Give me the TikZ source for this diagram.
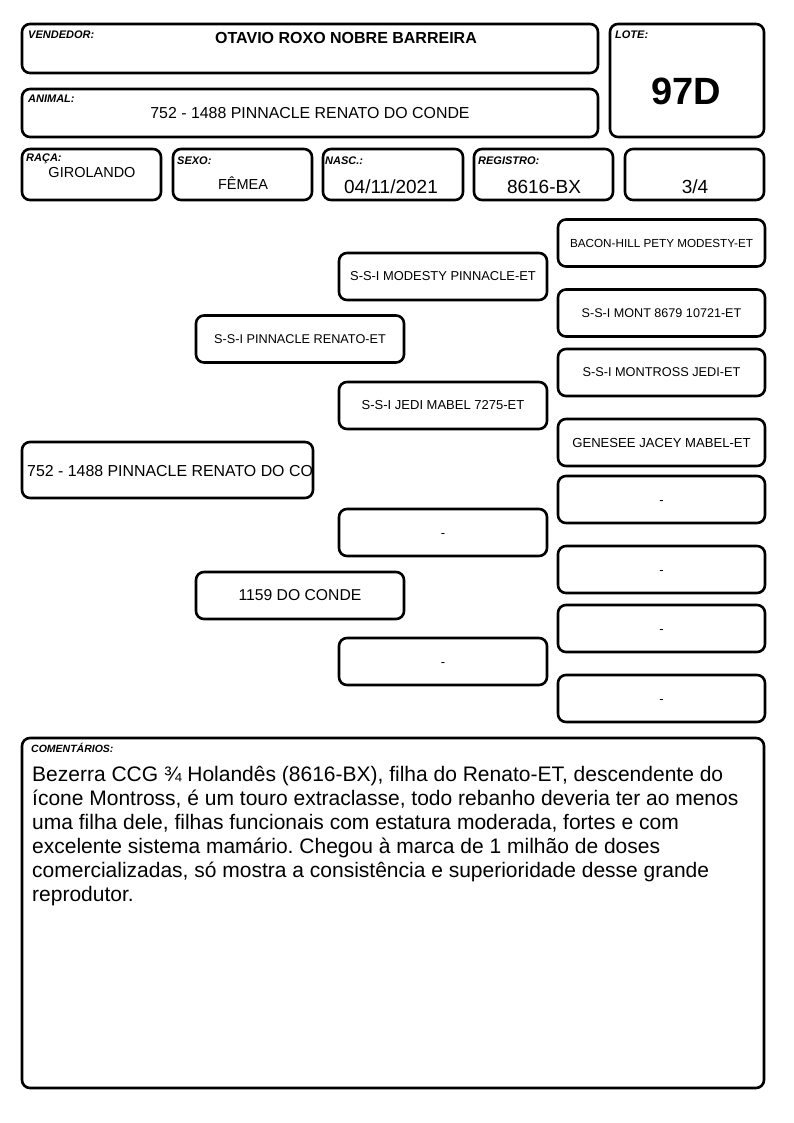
\documentclass[tikz,border=0pt]{standalone}
\usepackage{fontspec}
\setmainfont{Liberation Sans}
\frenchspacing
\begin{document}
\begin{tikzpicture}[x=1pt,y=-1pt,
  box/.style={draw=black, line width=2.6pt, rounded corners=8pt, inner sep=0pt, anchor=center},
  lbl/.style={anchor=base west, inner sep=0pt, font=\fontsize{11}{13}\selectfont\bfseries\itshape},
  val/.style={anchor=base, inner sep=0pt},
  ped/.style={box, font=\fontsize{13}{15}\selectfont, align=center, minimum width=208pt, minimum height=47pt},
  dashtxt/.style={text height=9.5pt, text depth=0pt},
]
\useasboundingbox[fill=white] (0,0) rectangle (794,1123);

% header boxes
\node[box, minimum width=576pt, minimum height=49pt] (vend) at (310,48.5) {};
\node[box, minimum width=576pt, minimum height=48pt] (anim) at (310,113) {};
\node[box, minimum width=154pt, minimum height=113pt] (lote) at (687,80.5) {};
\node[box, minimum width=139pt, minimum height=51pt] (raca) at (91.5,174.5) {};
\node[box, minimum width=139pt, minimum height=51pt] (sexo) at (242.5,174.5) {};
\node[box, minimum width=140pt, minimum height=51pt] (nasc) at (393,174.5) {};
\node[box, minimum width=139pt, minimum height=51pt] (regi) at (543.5,174.5) {};
\node[box, minimum width=139pt, minimum height=51pt] (frac) at (694.5,174.5) {};

\node[lbl] (vendl) at (28,39) {VENDEDOR:};
\node[val, font=\fontsize{16}{18}\selectfont\bfseries] (vendv) at (346,44) {OTAVIO ROXO NOBRE BARREIRA};
\node[lbl] (animl) at (28,103) {ANIMAL:};
\node[val, font=\fontsize{15.9}{18}\selectfont] (animv) at (310,119) {752 - 1488 PINNACLE RENATO DO CONDE};
\node[lbl] (lotel) at (615,39) {LOTE:};
\node[val, font=\fontsize{38}{40}\selectfont\bfseries] (lotev) at (686,105) {97D};

\node[lbl] (racal) at (26,162) {RAÇA:};
\node[val, font=\fontsize{14.5}{16}\selectfont] (racav) at (92,178) {GIROLANDO};
\node[lbl] (sexol) at (177,165) {SEXO:};
\node[val, font=\fontsize{14.5}{16}\selectfont] (sexov) at (243,190) {FÊMEA};
\node[lbl] (nascl) at (325,165) {NASC.:};
\node[val, font=\fontsize{19}{21}\selectfont] (nascv) at (391,194) {04/11/2021};
\node[lbl] (regil) at (478,165) {REGISTRO:};
\node[val, font=\fontsize{19}{21}\selectfont] (regiv) at (544,194) {8616-BX};
\node[val, font=\fontsize{19}{21}\selectfont] (fracv) at (695,194) {3/4};

% pedigree
\node[box, minimum width=291pt, minimum height=56pt] (g1) at (167.5,470) {};
\begin{scope}
  \clip (23.5,443.5) rectangle (311.6,496.5);
  \node[anchor=base west, inner sep=0pt, font=\fontsize{15.9}{18}\selectfont] (g1t) at (27,476) {752 - 1488 PINNACLE RENATO DO CONDE};
\end{scope}

\node[ped, font=\fontsize{12.7}{15}\selectfont] (s) at (300,339) {S-S-I PINNACLE RENATO-ET};
\node[ped, font=\fontsize{15.7}{18}\selectfont] (d) at (300,595.5) {1159 DO CONDE};

\node[ped, font=\fontsize{12.9}{15}\selectfont] (ss) at (443,276.5) {S-S-I MODESTY PINNACLE-ET};
\node[ped] (sd) at (443,405.5) {S-S-I JEDI MABEL 7275-ET};
\node[ped, dashtxt] (ds) at (443,532.5) {-};
\node[ped, dashtxt] (dd) at (443,661.5) {-};

\node[ped, minimum width=207pt, font=\fontsize{11.7}{14}\selectfont] (sss) at (661.5,243) {BACON-HILL PETY MODESTY-ET};
\node[ped, minimum width=207pt, font=\fontsize{12.6}{15}\selectfont] (ssd) at (661.5,313) {S-S-I MONT 8679 10721-ET};
\node[ped, minimum width=207pt, font=\fontsize{12.75}{15}\selectfont] (sds) at (661.5,372.5) {S-S-I MONTROSS JEDI-ET};
\node[ped, minimum width=207pt, font=\fontsize{13.1}{15}\selectfont] (sdd) at (661.5,442.5) {GENESEE JACEY MABEL-ET};
\node[ped, dashtxt, minimum width=207pt] (dss) at (661.5,499.5) {-};
\node[ped, dashtxt, minimum width=207pt] (dsd) at (661.5,569.5) {-};
\node[ped, dashtxt, minimum width=207pt] (dds) at (661.5,628.5) {-};
\node[ped, dashtxt, minimum width=207pt] (ddd) at (661.5,698.5) {-};

% comments
\node[box, minimum width=742pt, minimum height=350pt] (com) at (393,913) {};
\node[lbl, font=\fontsize{10.5}{12}\selectfont\bfseries\itshape] (coml) at (31,752) {COMENTÁRIOS:};
\node[anchor=north west, inner sep=0pt, align=left, font=\fontsize{21}{24}\selectfont] (comt) at (32,764.2) {\strut Bezerra CCG ¾ Holandês (8616-BX), filha do Renato-ET, descendente do\\
ícone Montross, é um touro extraclasse, todo rebanho deveria ter ao menos\\
uma filha dele, filhas funcionais com estatura moderada, fortes e com\\
excelente sistema mamário. Chegou à marca de 1 milhão de doses\\
comercializadas, só mostra a consistência e superioridade desse grande\\
reprodutor.};
\end{tikzpicture}
\end{document}
